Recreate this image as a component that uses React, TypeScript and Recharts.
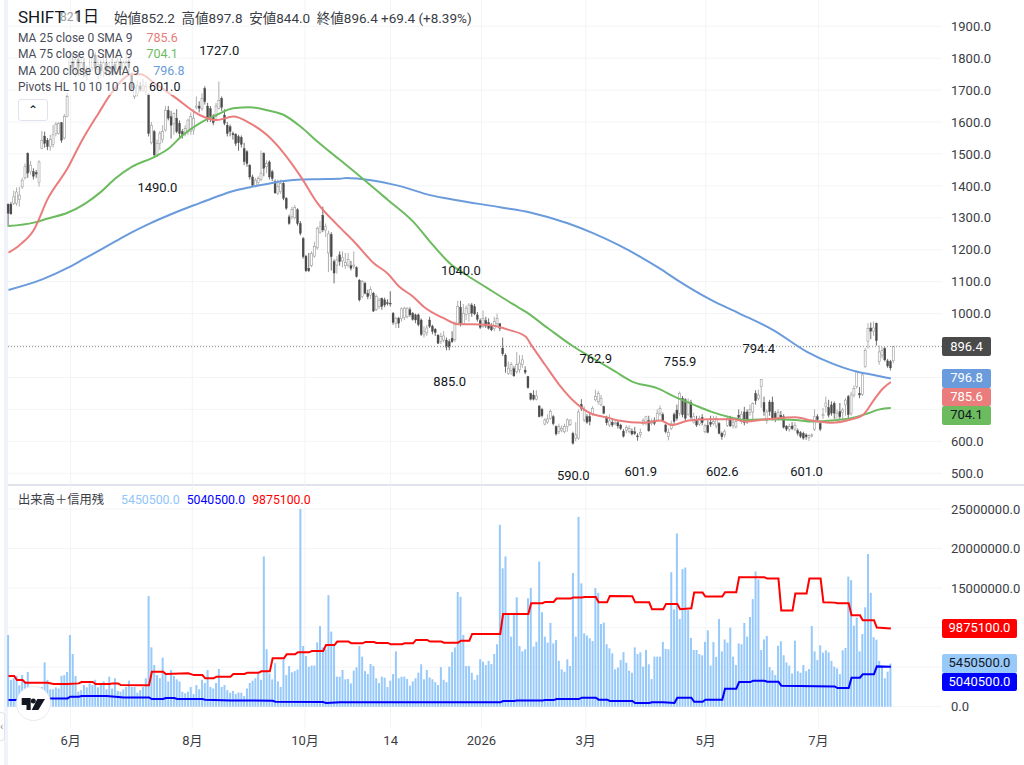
import { Bar, CartesianGrid, ComposedChart, Line, ReferenceDot, ReferenceLine, XAxis, YAxis } from "recharts";

const font = 'Roboto, "Noto Sans CJK JP", sans-serif';

// one candle per trading day: open, close, high, low
const candles: number[][] = [
  [1343,1314,1345,1272],[1343,1312,1350,1310],[1345,1366,1385,1340],[1345,1381,1395,1338],[1358,1371,1397,1335],[1397,1418,1425,1390],[1425,1460,1470,1420],[1502,1440,1505,1425],[1445,1465,1478,1435],[1445,1430,1455,1420],
  [1442,1437,1450,1425],[1410,1475,1480,1398],[1517,1542,1572,1515],[1556,1533,1570,1520],[1543,1523,1550,1512],[1523,1545,1560,1510],[1530,1560,1590,1520],[1564,1593,1600,1555],[1565,1595,1600,1560],[1598,1543,1600,1535],
  [1550,1617,1625,1545],[1617,1680,1692,1615],[1760,1800,1825,1745],[1790,1770,1815,1755],[1770,1795,1810,1740],[1795,1770,1815,1745],[1760,1785,1805,1750],[1785,1760,1800,1740],[1745,1755,1775,1730],[1755,1770,1800,1745],
  [1770,1800,1815,1760],[1810,1768,1818,1755],[1765,1780,1800,1735],[1780,1760,1795,1745],[1760,1785,1805,1740],[1785,1758,1800,1745],[1758,1775,1790,1740],[1775,1755,1800,1745],[1780,1765,1790,1750],[1765,1790,1810,1755],
  [1790,1765,1800,1745],[1765,1785,1795,1755],[1785,1790,1815,1770],[1790,1770,1800,1755],[1750,1705,1755,1695],[1680,1708,1715,1672],[1690,1715,1730,1680],[1712,1702,1725,1695],[1700,1715,1735,1695],[1695,1712,1725,1685],
  [1685,1564,1690,1555],[1535,1590,1600,1530],[1570,1497,1575,1490],[1497,1533,1545,1490],[1533,1565,1572,1512],[1545,1570,1590,1535],[1575,1637,1650,1570],[1637,1612,1650,1605],[1617,1590,1635,1548],[1596,1627,1630,1560],
  [1612,1570,1640,1565],[1596,1564,1605,1550],[1570,1560,1578,1548],[1564,1580,1590,1555],[1570,1606,1610,1560],[1570,1617,1630,1560],[1575,1612,1640,1560],[1645,1650,1680,1640],[1650,1643,1665,1630],[1643,1674,1690,1635],
  [1705,1664,1712,1655],[1650,1612,1660,1600],[1642,1617,1650,1600],[1617,1598,1625,1590],[1617,1650,1660,1610],[1643,1668,1727,1640],[1674,1646,1680,1635],[1622,1596,1640,1590],[1590,1564,1600,1555],[1585,1570,1592,1555],
  [1564,1560,1570,1545],[1562,1533,1565,1525],[1554,1535,1560,1510],[1552,1530,1558,1520],[1517,1476,1535,1465],[1507,1470,1512,1460],[1465,1428,1468,1420],[1428,1402,1435,1398],[1402,1418,1425,1398],[1410,1423,1430,1400],
  [1420,1440,1510,1415],[1502,1455,1505,1430],[1460,1470,1480,1440],[1475,1428,1480,1420],[1444,1423,1450,1415],[1413,1378,1420,1375],[1377,1398,1420,1372],[1382,1408,1420,1375],[1408,1361,1412,1355],[1361,1330,1365,1325],
  [1303,1282,1310,1278],[1303,1326,1335,1295],[1300,1333,1340,1295],[1325,1282,1330,1275],[1282,1251,1290,1245],[1235,1178,1240,1172],[1180,1134,1184,1130],[1142,1134,1190,1130],[1150,1188,1195,1145],[1180,1210,1225,1175],
  [1206,1267,1272,1200],[1255,1272,1290,1250],[1308,1262,1335,1255],[1262,1272,1282,1240],[1190,1250,1260,1130],[1248,1178,1255,1135],[1163,1127,1170,1095],[1152,1168,1180,1125],[1184,1163,1195,1150],[1165,1175,1195,1145],
  [1150,1160,1190,1140],[1152,1170,1190,1145],[1150,1142,1165,1135],[1148,1152,1195,1140],[1144,1116,1148,1113],[1105,1043,1108,1038],[1053,1100,1105,1048],[1095,1064,1100,1060],[1064,1053,1075,1045],[1058,1075,1085,1045],
  [1064,1008,1068,1005],[1012,1053,1060,1008],[1022,1042,1050,1015],[1048,1022,1050,1012],[1043,1027,1050,1020],[1034,1032,1045,1025],[1033,1030,1070,1022],[1001,972,1005,965],[970,985,990,955],[985,970,990,955],
  [985,1015,1020,975],[988,1017,1022,980],[990,1017,1020,985],[1012,996,1020,990],[1001,982,1005,978],[996,980,1000,970],[996,965,1000,960],[980,935,985,930],[935,945,960,925],[940,955,965,930],
  [980,960,990,955],[961,944,965,935],[951,940,955,930],[933,907,935,905],[912,928,940,905],[917,930,945,910],[917,895,925,885],[912,895,920,885],[923,912,945,908],[918,965,975,912],
  [970,1022,1040,965],[1020,968,1040,960],[968,1000,1030,965],[997,1017,1025,980],[1000,1027,1033,975],[1027,1001,1033,990],[1022,999,1030,995],[996,982,1005,975],[978,957,985,952],[960,985,1010,955],
  [978,961,990,955],[972,954,985,950],[961,949,970,945],[954,975,990,945],[968,985,1000,960],[968,954,970,945],[892,874,925,868],[870,834,875,815],[813,829,850,808],[822,840,848,808],
  [827,805,835,802],[818,840,880,812],[824,845,870,815],[840,855,870,830],[823,816,835,810],[803,768,805,765],[750,732,752,728],[745,732,760,728],[732,742,760,728],[711,677,712,675],
  [700,680,705,675],[654,667,672,650],[660,670,685,655],[672,693,700,668],[677,655,682,650],[646,623,650,618],[630,646,655,622],[635,640,650,628],[630,646,655,625],[646,667,672,630],
  [652,667,668,648],[625,594,630,590],[610,620,660,600],[610,692,700,605],[716,703,732,695],[667,698,710,660],[677,660,685,655],[678,662,690,650],[686,703,710,680],[730,740,762,725],
  [724,750,758,715],[714,735,745,710],[709,688,712,685],[672,658,680,650],[651,664,685,645],[660,651,672,645],[655,658,670,650],[658,648,665,640],[651,640,655,635],[632,616,638,612],
  [635,644,650,625],[630,640,650,625],[632,623,640,618],[630,624,645,620],[617,615,625,602],[622,628,640,612],[655,665,672,650],[658,677,680,650],[665,633,680,630],[656,664,672,650],[665,656,675,650],
  [665,688,700,662],[688,703,712,680],[684,664,690,660],[651,630,655,625],[615,627,640,603],[640,655,665,635],[684,662,690,655],[698,672,715,665],[688,750,756,680],[735,683,742,675],
  [730,672,735,662],[685,725,735,680],[722,675,730,670],[660,677,690,655],[665,651,680,645],[654,672,680,648],[675,658,685,650],[630,648,655,625],[650,628,665,625],[660,653,680,645],[655,662,680,650],
  [648,672,680,640],[656,625,660,622],[625,614,630,605],[620,630,638,612],[650,672,680,645],[672,648,680,645],[650,660,672,640],[645,662,675,640],[682,675,700,665],[662,685,695,655],
  [692,658,708,650],[692,662,700,655],[690,700,715,680],[692,718,722,665],[750,727,760,715],[735,745,762,728],[772,794,794,705],[722,693,740,680],[665,692,700,655],[723,693,730,680],[723,672,740,665],[688,669,695,660],
  [672,690,700,665],[682,672,695,668],[677,644,685,640],[648,638,650,632],[638,646,655,630],[648,640,660,635],[638,650,660,632],[633,625,640,618],[627,615,632,610],[625,610,630,605],
  [620,614,625,605],[612,618,622,601],[618,620,625,612],[638,677,700,632],[677,668,685,660],[656,638,662,632],[680,685,705,670],[710,720,740,690],[706,682,730,675],[714,688,725,680],
  [719,688,725,670],[665,688,700,660],[693,677,720,670],[690,698,705,660],[714,729,735,680],[740,683,745,670],[688,745,755,680],[745,765,775,738],[772,818,822,765],[750,745,770,735],
  [747,808,812,742],[835,885,892,830],[912,953,970,890],[955,945,972,920],[945,955,975,930],[970,915,972,900],[850,880,900,840],[870,885,895,860],[891,855,895,850],[852,836,858,830],
  [850,830,855,822],[852.2,896.4,897.8,844],
];

// moving averages, read at [day index, price]
const ma25Points = [[0,1191],[4,1215],[9,1262],[14,1360],[21,1455],[26,1540],[32,1627],[37,1695],[44,1750],[47,1750],[52,1721],[59,1679],[68,1622],[74,1606],[80,1617],[86,1596],[92,1559],[98,1502],[104,1429],[110,1345],[117,1278],[123,1225],[130,1158],[135,1125],[139,1085],[144,1053],[148,1020],[155,985],[160,967],[165,967],[171,964],[178,949],[184,928],[186,902],[191,839],[196,777],[202,719],[207,688],[213,675],[217,665],[226,658],[232,665],[236,651],[242,665],[250,669],[258,669],[262,662],[270,669],[280,675],[286,665],[293,658],[300,669],[304,682],[308,730],[311,764],[314,785.6]];
const ma75Points = [[0,1274],[9,1285],[14,1298],[21,1316],[27,1343],[33,1382],[38,1423],[44,1460],[52,1491],[57,1517],[62,1559],[68,1596],[74,1622],[80,1643],[86,1646],[92,1637],[98,1622],[104,1585],[110,1538],[115,1502],[118,1481],[135,1356],[144,1288],[151,1215],[157,1158],[163,1121],[170,1082],[180,1027],[184,1006],[192,954],[201,897],[208,860],[216,818],[222,787],[231,766],[237,740],[244,714],[250,693],[257,675],[262,667],[272,669],[280,667],[286,662],[293,665],[301,675],[306,688],[310,700],[314,704.1]];
const ma200Points = [[0,1074],[12,1107],[21,1143],[27,1172],[33,1201],[38,1226],[44,1255],[50,1281],[57,1308],[62,1326],[68,1346],[74,1366],[80,1384],[86,1396],[92,1406],[98,1415],[104,1420],[110,1421],[118,1422],[120,1425],[129,1418],[139,1400],[150,1371],[159,1356],[175,1333],[186,1316],[199,1283],[208,1252],[217,1215],[225,1177],[232,1140],[238,1105],[250,1043],[260,1001],[272,949],[284,881],[293,844],[302,818],[308,808],[314,796.8]];

// pivots: day index, price, label above or below
const pivotDays = [75, 53, 161, 157, 201, 209, 225, 239, 254, 267, 284];
const pivotPrices = [1727, 1490, 1040, 885, 590, 762.9, 601.9, 755.9, 602.6, 794.4, 601];
const pivotSides = ["top", "bottom", "top", "bottom", "bottom", "top", "bottom", "top", "bottom", "top", "bottom"];

// volume in millions of shares
const volumes = [
  9.07,3.4,3.6,3.9,2.7,4,3,4.4,2.5,2.5,2.5,2.5,2.5,5.6,3.4,2.2,2.2,2.45,2.3,3.9,4,4.4,9.07,6.67,3.9,1.9,2.1,2.74,2.45,2.95,2.74,3.4,2.45,2.8,3.2,2.2,3.8,2.3,3.6,2,1.9,2.2,2.5,3.3,2.5,2.5,1.77,2.1,2.5,3.6,
  14,7.5,5.27,4,3.6,6.2,4.2,3.2,4.64,3.9,3.46,3.2,1.9,1.7,1.9,2.5,1.6,2.74,2.2,3.4,3,4.64,2.5,2.3,3,4.77,2.5,2.74,2.1,1.77,2,1.6,1.8,1.77,1.35,2.3,3,3.3,3.6,4.2,3.4,19,7.26,4.2,3.46,5.5,3.2,2.5,6,4,
  5.15,4.35,4.5,4.7,25,7.68,6.4,5.06,5.2,5.2,8.14,10.2,7.5,7.26,14.1,9.5,7.8,3.8,3.8,4.64,3.46,3.5,2.95,4.56,5,7.68,6.33,4.5,4.13,5.4,5.15,3.6,3,3.8,3.67,2.5,3.3,4.13,7,3.6,3.8,3.8,3.5,2.66,3.2,3.6,4.3,5.36,3.46,4.64,
  3.7,3.46,3.1,2.74,5,3.4,3.1,5.06,6.9,7.5,14.5,13.9,9.07,5.15,5.15,4.3,3.4,4,6,5.7,5.27,5.8,5.4,6.67,7.9,23,17.5,19,11.6,8.86,11.6,13.84,7.68,7,7.26,13.7,15,7.6,8.2,18.35,11.94,8.86,8.1,10.6,8,8.44,5.8,4.73,4.43,6,
  5.15,16.9,8.86,24,15.6,9.28,9,8.65,8.3,15,14.4,10.46,10.63,7.9,7.38,6.75,4.73,4.94,5.9,6.9,5.57,4.56,4.3,7.5,6.67,6.88,5.06,7.17,5.36,3.5,6.33,6.33,6.33,8.2,7.3,7.26,17,12.3,21.9,11.1,17.4,17.6,12.2,8.7,7.17,7.17,6.67,6.5,8.2,9.66,
  5.2,8.2,6.3,11.1,7,8.5,8.1,10,6.33,5.27,8,7.9,10.6,8.86,11.35,13.6,17.1,16.1,7.17,8.5,8.95,5,4.6,4,7.7,8.27,6.5,5.6,5.2,4.2,8.35,4.5,4.3,5.27,4.5,4.77,10.2,7,5.9,7.76,6.84,7.13,6.88,5.8,5.06,4.85,4.13,7.13,7.43,16.45,
  16,10.25,11.27,7,9.2,12.57,19.3,14.4,8.8,8.48,5.8,5.06,3.6,4.43,5.45,
];

// margin balances, read at [day index, millions]
const sellPoints = [[0,3.88],[2,3.88],[3,3.38],[5,3.38],[6,3.04],[14,3.04],[16,2.87],[21,2.87],[25,2.95],[26,3.12],[30,3.12],[31,2.87],[36,2.87],[37,2.95],[39,2.95],[40,2.74],[49,2.7],[50,2.7],[51,4.43],[55,4.43],[56,4.14],[64,4.22],[66,4],[69,4],[70,3.59],[73,3.59],[74,3.8],[79,3.8],[80,4.14],[84,4.14],[85,4.3],[89,4.3],[90,4.47],[93,4.47],[94,6.12],[98,6.12],[99,6.62],[102,6.62],[103,6.88],[107,6.88],[108,7.05],[112,7.05],[113,7.8],[116,7.8],[117,8.23],[121,8.23],[122,8.02],[126,8.02],[127,8.19],[130,8.19],[131,8.06],[135,8.06],[136,7.89],[140,7.89],[141,8.02],[144,8.02],[145,8.44],[149,8.44],[150,8.23],[154,8.23],[155,8.1],[160,8.1],[161,8.35],[164,8.35],[165,9.2],[175,9.2],[176,11.73],[185,11.73],[186,13.08],[190,13.08],[191,13.25],[194,13.25],[195,13.67],[200,13.67],[201,13.8],[204,13.8],[205,13.88],[209,13.88],[210,13.2],[213,13.2],[214,14],[222,13.97],[223,13.2],[228,13.2],[229,12.32],[233,12.32],[234,13],[238,13],[239,12.32],[243,12.45],[244,14.43],[247,14.43],[248,13.92],[254,13.92],[255,14.47],[259,14.47],[260,16.37],[269,16.37],[270,16.2],[274,16.2],[275,12.15],[279,12.15],[280,14.3],[284,14.3],[285,16.2],[289,16.2],[290,13.2],[294,13.16],[295,13.08],[299,13.08],[300,11.56],[303,11.56],[304,10.93],[308,10.93],[309,10],[314,9.8751]];
const buyPoints = [[0,0.84],[2,0.84],[14,1.05],[21,1.05],[22,1.27],[25,1.27],[26,1.35],[35,1.35],[41,1.18],[50,1.18],[51,0.97],[55,0.97],[56,1.1],[59,1.1],[60,0.97],[69,0.97],[70,0.89],[79,0.8],[94,0.76],[95,0.63],[112,0.59],[113,0.46],[118,0.55],[175,0.55],[176,0.72],[180,0.72],[181,0.8],[190,0.8],[191,0.84],[194,0.84],[195,0.97],[203,0.97],[204,1.14],[209,1.14],[210,0.89],[213,0.89],[214,0.72],[222,0.72],[223,0.46],[228,0.46],[229,0.55],[233,0.55],[237,0.46],[238,1.14],[243,1.14],[244,0.63],[247,0.63],[248,0.89],[254,0.89],[255,2.28],[259,2.28],[260,3.12],[264,3.12],[265,3.29],[269,3.29],[270,3.16],[274,3.16],[275,2.66],[294,2.57],[295,2.36],[299,2.36],[300,3.67],[303,3.67],[304,4.09],[308,4.09],[309,5.1],[314,5.0405]];

const priceTicks = [500, 600, 700, 800, 900, 1000, 1100, 1200, 1300, 1400, 1500, 1600, 1700, 1800, 1900];
const volumeTicks = [0, 5, 10, 15, 20, 25];
const monthTicks = [22.1, 65.4, 105.5, 136, 168.3, 205.4, 248.1, 288.2];
const monthLabels = ["6月", "8月", "10月", "14", "2026", "3月", "5月", "7月"];

const lookup = (points: number[][]) => new Map(points.map(([day, value]) => [day, value]));
const ma25 = lookup(ma25Points);
const ma75 = lookup(ma75Points);
const ma200 = lookup(ma200Points);
const sell = lookup(sellPoints);
const buy = lookup(buyPoints);

const rows = candles.map(([open, close, high, low], day) => ({
  day, open, close, high, low,
  ma25: ma25.get(day) ?? null,
  ma75: ma75.get(day) ?? null,
  ma200: ma200.get(day) ?? null,
  volume: volumes[day],
  sell: sell.get(day) ?? null,
  buy: buy.get(day) ?? null,
}));

const RED = "#ea7c7c";
const GREEN = "#6cbb5f";
const BLUE = "#6a9bdc";
const GRID = "#f3f4f6";
const xDomain = [-0.18, 332.2];

function Candle(props: any) {
  const { x, y, width, height, payload } = props;
  const { open, close, high, low } = payload;
  const top = Math.min(y, y + height);
  const span = Math.abs(height);
  const toY = (v: number) => top + ((high - v) / (high - low)) * span;
  const up = close >= open;
  const cx = x + width / 2;
  const bodyTop = toY(Math.max(open, close));
  const bodyH = Math.max(Math.abs(toY(open) - toY(close)), 1);
  const color = up ? "#9a9a9a" : "#4a4a4a";
  return (
    <g>
      <line x1={cx} x2={cx} y1={top} y2={top + span} stroke={color} strokeWidth={0.8} />
      <rect x={cx - 1} y={bodyTop} width={2} height={bodyH} fill={up ? "#fff" : "#4a4a4a"} stroke={color} strokeWidth={up ? 0.6 : 0.3} />
    </g>
  );
}

function Tag({ top, height = 18.5, left = 942, width, bg, color, children }: any) {
  return (
    <div style={{ position: "absolute", left, top, width, height, background: bg, color, fontSize: 13, lineHeight: `${height}px`, textAlign: "center", borderRadius: 2 }}>
      {children}
    </div>
  );
}

function LegendRow({ top, name, value, color }: any) {
  return (
    <div style={{ position: "absolute", left: 18, top, height: 16, lineHeight: "16px", fontSize: 12, color: "#4a4d57", background: "rgba(255,255,255,0.6)", whiteSpace: "nowrap" }}>
      {name}
      <span style={{ color, marginLeft: 14, fontSize: 12.5 }}>{value}</span>
    </div>
  );
}

export default function App() {
  return (
    <div style={{ position: "absolute", left: 0, top: 0, width: 1024, height: 765, overflow: "hidden", background: "#fff", fontFamily: font }}>
      <div style={{ position: "absolute", left: 4, top: 0, width: 4, height: 765, background: "#f0f3fa" }} />
      <div style={{ position: "absolute", left: 0, top: 712, width: 4, height: 27, border: "1px solid #e0e3eb", borderLeft: "none", borderRadius: "0 4px 4px 0", background: "#fff", color: "#8a8e99", fontSize: 11, lineHeight: "27px" }}>‹</div>
      <div style={{ position: "absolute", left: 8, top: 484, width: 1016, height: 1.5, background: "#e0e3eb" }} />

      <div style={{ position: "absolute", left: 0, top: 0 }}>
        <ComposedChart width={1024} height={484} data={rows} margin={{ top: 0, right: 0, bottom: 0, left: 8 }}>
          <CartesianGrid stroke={GRID} horizontalValues={priceTicks} verticalValues={monthTicks} />
          <XAxis dataKey="day" type="number" domain={xDomain} ticks={monthTicks} hide />
          <YAxis orientation="right" width={82} domain={[466.3, 1982.2]} ticks={priceTicks} interval={0} axisLine={false} tickLine={false}
            tick={{ fontSize: 13, fill: "#3a3d45", fontFamily: font, dx: 1 }}
            tickFormatter={(v: number) => ([700, 800, 900].includes(v) ? "" : v.toFixed(1))} />
          <ReferenceLine y={896.4} stroke="#8a8a8a" strokeDasharray="1 2" />
          <Bar dataKey={(r: any) => [r.low, r.high]} barSize={2} shape={<Candle />} isAnimationActive={false} />
          <Line dataKey="ma200" type="monotone" stroke={BLUE} strokeWidth={2} dot={false} connectNulls isAnimationActive={false} />
          <Line dataKey="ma75" type="monotone" stroke={GREEN} strokeWidth={2} dot={false} connectNulls isAnimationActive={false} />
          <Line dataKey="ma25" type="monotone" stroke={RED} strokeWidth={2} dot={false} connectNulls isAnimationActive={false} />
          {pivotDays.map((day, k) => (
            <ReferenceDot key={day} x={day} y={pivotPrices[k]} r={0} fill="none" stroke="none"
              label={{ value: pivotPrices[k].toFixed(1), position: pivotSides[k] as any, offset: 26, fontSize: 13, fill: "#131722" }} />
          ))}
        </ComposedChart>
      </div>

      <div style={{ position: "absolute", left: 0, top: 485 }}>
        <ComposedChart width={1024} height={280} data={rows} margin={{ top: 0, right: 0, bottom: 0, left: 8 }}>
          <CartesianGrid stroke={GRID} horizontalValues={volumeTicks} verticalValues={monthTicks} />
          <XAxis dataKey="day" type="number" domain={xDomain} ticks={monthTicks} interval={0} height={37} axisLine={false} tickLine={false}
            tick={{ fontSize: 13, fill: "#3a3d45", fontFamily: font }} tickFormatter={(v: number) => monthLabels[monthTicks.indexOf(v)]} />
          <YAxis orientation="right" width={82} domain={[-2.69, 28.03]} ticks={volumeTicks} interval={0} axisLine={false} tickLine={false}
            tick={{ fontSize: 13, fill: "#3a3d45", fontFamily: font, dx: 1 }}
            tickFormatter={(v: number) => ([5, 10].includes(v) ? "" : (v * 1000000).toFixed(1))} />
          <Bar dataKey="volume" barSize={2} fill="#97c9fa" isAnimationActive={false} />
          <Line dataKey="sell" type="linear" stroke="#ff0000" strokeWidth={2} dot={false} connectNulls isAnimationActive={false} />
          <Line dataKey="buy" type="linear" stroke="#0000ff" strokeWidth={2} dot={false} connectNulls isAnimationActive={false} />
        </ComposedChart>
      </div>

      <div style={{ position: "absolute", left: 18, top: 7, fontSize: 17, color: "#131722", lineHeight: "20px" }}>SHIFT</div>
      <div style={{ position: "absolute", left: 60, top: 9, fontSize: 12, color: "#9a9a9a", lineHeight: "16px" }}>821</div>
      <div style={{ position: "absolute", left: 74, top: 7, fontSize: 16, color: "#131722", lineHeight: "20px" }}>1日</div>
      <div style={{ position: "absolute", left: 114, top: 9, fontSize: 13.5, color: "#3a3d45", lineHeight: "18px", whiteSpace: "nowrap" }}>
        始値852.2&nbsp; 高値897.8&nbsp; 安値844.0&nbsp; 終値896.4 +69.4 (+8.39%)
      </div>
      <LegendRow top={30} name="MA 25 close 0 SMA 9" value="785.6" color={RED} />
      <LegendRow top={46} name="MA 75 close 0 SMA 9" value="704.1" color={GREEN} />
      <LegendRow top={63} name="MA 200 close 0 SMA 9" value="796.8" color={BLUE} />
      <LegendRow top={79} name="Pivots HL 10 10 10 10" value="601.0" color="#131722" />
      <div style={{ position: "absolute", left: 18, top: 99, width: 28, height: 20, border: "1px solid #e0e3eb", borderRadius: 3, background: "#fff", textAlign: "center", fontSize: 12, lineHeight: "20px", color: "#131722" }}>⌃</div>

      <Tag top={337} width={49} height={19} bg="#4a4a4a" color="#fff">896.4</Tag>
      <Tag top={369} width={49} bg={BLUE} color="#fff">796.8</Tag>
      <Tag top={387.5} width={49} bg={RED} color="#fff">785.6</Tag>
      <Tag top={406} width={49} bg={GREEN} color="#131722">704.1</Tag>

      <div style={{ position: "absolute", left: 18, top: 492, fontSize: 12.3, color: "#3a3d45", lineHeight: "16px", whiteSpace: "nowrap" }}>
        出来高＋信用残
        <span style={{ color: "#90c6fa", marginLeft: 17 }}>5450500.0</span>
        <span style={{ color: "#0000ff", marginLeft: 7 }}>5040500.0</span>
        <span style={{ color: "#ff0000", marginLeft: 7 }}>9875100.0</span>
      </div>
      <Tag top={619} width={75} bg="#ff0000" color="#fff">9875100.0</Tag>
      <Tag top={654} width={75} bg="#97c9fa" color="#131722">5450500.0</Tag>
      <Tag top={672.5} width={75} bg="#0000ff" color="#fff">5040500.0</Tag>

      <svg style={{ position: "absolute", left: 16, top: 686 }} width={35} height={35}>
        <circle cx={17.5} cy={17.5} r={17} fill="#fff" stroke="#e8eaf0" />
        <path d="M5.7 12h9v12h-4.2v-5H5.7z M21.3 13H29L22.3 24H15.7z" fill="#131722" />
        <circle cx={17.3} cy={15} r={2.5} fill="#131722" />
      </svg>
    </div>
  );
}
